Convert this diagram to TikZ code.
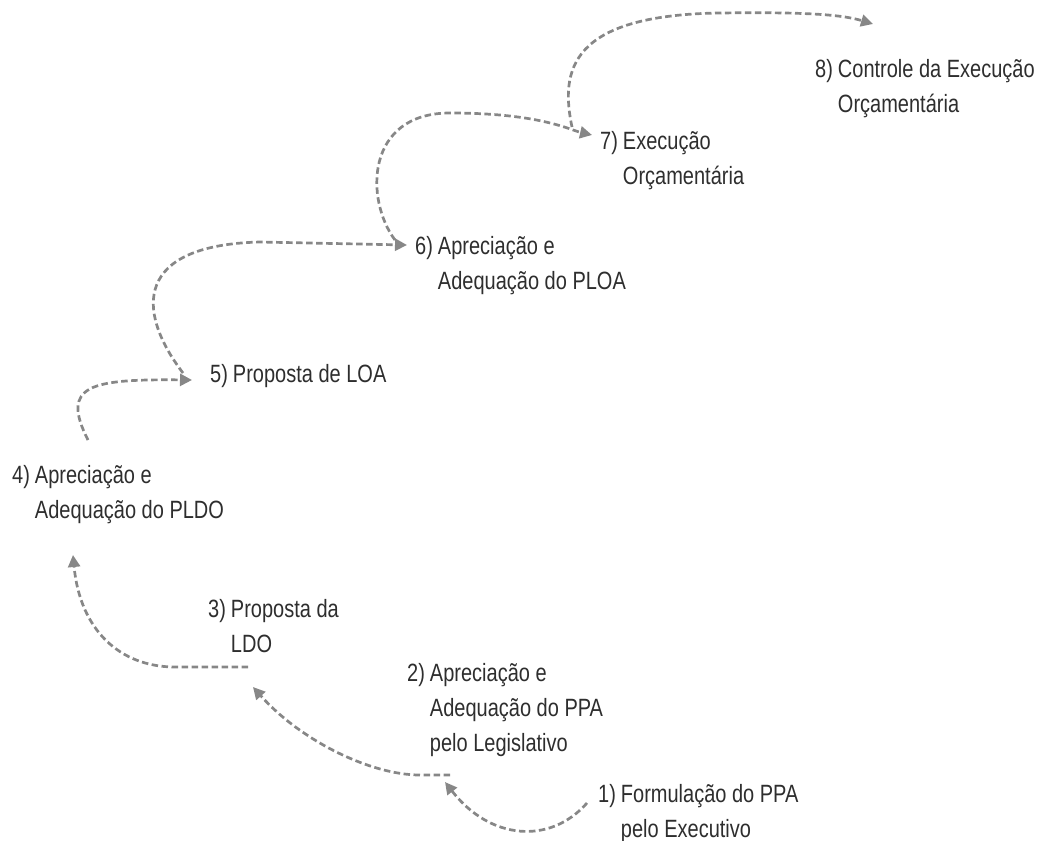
\documentclass[tikz,border=0pt]{standalone}
\usepackage{fontspec}
\setmainfont{Liberation Sans}[FakeStretch=0.8]
\usepackage{tikz}
\usetikzlibrary{arrows.meta}
\definecolor{txtcor}{HTML}{2E2E2E}
\definecolor{setacor}{HTML}{878787}
\newcommand{\etapa}[2]{\begin{tabular}[t]{@{}l@{\hspace{5pt}}l@{}}#1&#2\end{tabular}}

\begin{document}
\begin{tikzpicture}[x=1pt, y=-1pt, >={Triangle[length=12pt,width=12pt]},
    et/.style  ={anchor=base west, inner sep=0pt, text=txtcor, font=\fontsize{25}{35}\selectfont},
    seta/.style={->, draw=setacor, line width=2.7pt, dash pattern=on 6.5pt off 3.5pt}]
  \useasboundingbox (0,0) rectangle (1042,841);
  % etapas do ciclo
  \node[et] (n1) at (598,802) {\etapa{1)}{Formulação do PPA\\&pelo Executivo}};
  \node[et] (n2) at (407,681) {\etapa{2)}{Apreciação e\\&Adequação do PPA\\&pelo Legislativo}};
  \node[et] (n3) at (208,617) {\etapa{3)}{Proposta da\\&LDO}};
  \node[et] (n4) at (12,483)  {\etapa{4)}{Apreciação e\\&Adequação do PLDO}};
  \node[et] (n5) at (210,382) {\etapa{5)}{Proposta de LOA}};
  \node[et] (n6) at (415,254) {\etapa{6)}{Apreciação e\\&Adequação do PLOA}};
  \node[et] (n7) at (600,149) {\etapa{7)}{Execução\\&Orçamentária}};
  \node[et] (n8) at (815,77)  {\etapa{8)}{Controle da Execução\\&Orçamentária}};
  % setas tracejadas
  \draw[seta] ([shift={(-11,1)}]n1.base west) .. controls (550,845) and (490,840) .. ([shift={(38,101)}]n2.base west);
  \draw[seta] ([shift={(43,94)}]n2.base west) -- ++(-30,0) .. controls (370,775) and (300,740) .. ([shift={(45,70)}]n3.base west);
  \draw[seta] ([shift={(40,50)}]n3.base west) -- ++(-73,0) .. controls (120,667) and (80,630) .. ([shift={(61,72)}]n4.base west);
  \draw[seta] ([shift={(76,-43)}]n4.base west) .. controls (60,385) and (90,379) .. ([shift={(-18,-2)}]n5.base west);
  \draw[seta] ([shift={(-27,-9)}]n5.base west) .. controls (135,310) and (135,245) .. (260,242) -- ([shift={(-8,-9)}]n6.base west);
  \draw[seta] ([shift={(-20,-14)}]n6.base west) .. controls (365,200) and (365,113) .. (450,113) .. controls (540,113) and (570,130) .. ([shift={(-8,-14)}]n7.base west);
  \draw[seta] ([shift={(-28,-22)}]n7.base west) .. controls (560,70) and (570,15) .. (720,13) .. controls (800,12) and (840,14) .. ([shift={(58,-53)}]n8.base west);
\end{tikzpicture}
\end{document}
